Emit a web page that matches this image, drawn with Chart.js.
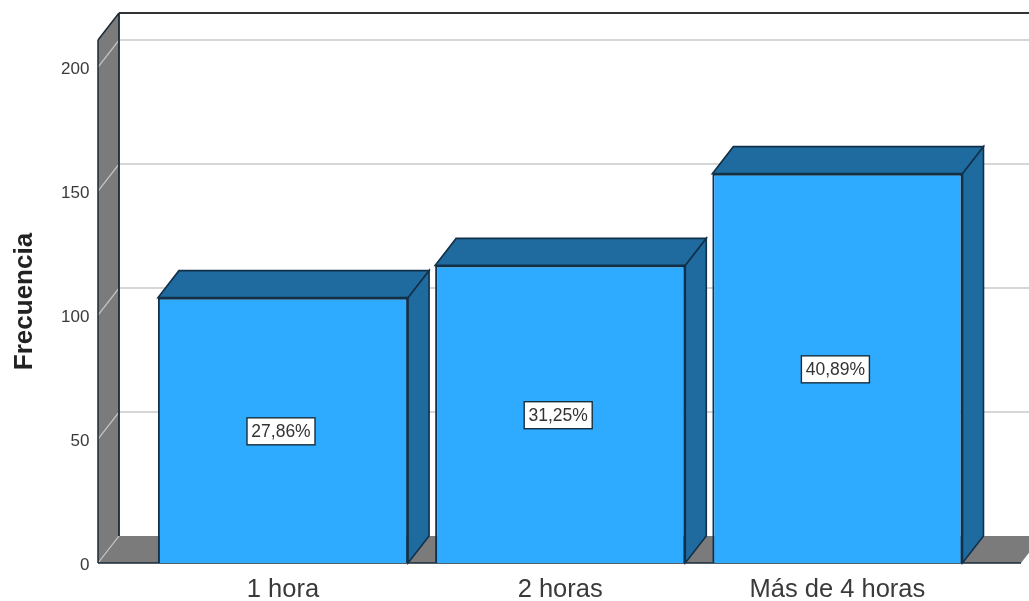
<!DOCTYPE html>
<html>
<head>
<meta charset="utf-8">
<style>
html,body{margin:0;padding:0;background:#fff;overflow:hidden}
canvas{display:block;filter:blur(0.45px)}
</style>
<script src="https://cdn.jsdelivr.net/npm/chart.js@4/dist/chart.umd.min.js"></script>
</head>
<body>
<canvas id="c" width="1029" height="601"></canvas>
<script>
const categories = ["1 hora", "2 horas", "Más de 4 horas"];
const frequencies = [107, 120, 157];
const percentLabels = ["27,86%", "31,25%", "40,89%"];
const yTicks = [0, 50, 100, 150, 200];
const axisTitle = "Frecuencia";

const DX = 21, DY = 27;
const WALL_LEFT = 98, FLOOR_RIGHT = 1021;
const EDGE = "#1a2a36", WALL = "#7b7b7b", GRID = "#c9c9c9";
const FRONT = "#2eaaff", SIDE = "#1f6a9e", BAR_EDGE = "#11304a";

function poly(ctx, pts, fill, stroke, lw) {
  ctx.beginPath();
  pts.forEach((p, i) => i ? ctx.lineTo(p[0], p[1]) : ctx.moveTo(p[0], p[1]));
  ctx.closePath();
  if (fill) { ctx.fillStyle = fill; ctx.fill(); }
  if (stroke) { ctx.strokeStyle = stroke; ctx.lineWidth = lw || 1.5; ctx.stroke(); }
}
function line(ctx, x1, y1, x2, y2, color, lw) {
  ctx.beginPath(); ctx.moveTo(x1, y1); ctx.lineTo(x2, y2);
  ctx.strokeStyle = color; ctx.lineWidth = lw; ctx.stroke();
}

const box3d = {
  id: "box3d",
  beforeDatasetsDraw(chart) {
    const { ctx, scales: { y } } = chart;
    const top = y.top, base = y.bottom;
    ctx.save();
    poly(ctx, [[WALL_LEFT, top], [WALL_LEFT + DX, top - DY], [WALL_LEFT + DX, base - DY], [WALL_LEFT, base]], WALL);
    poly(ctx, [[WALL_LEFT, base], [WALL_LEFT + DX, base - DY], [FLOOR_RIGHT + DX, base - DY], [FLOOR_RIGHT, base]], WALL);
    yTicks.forEach(v => {
      const py = y.getPixelForValue(v);
      line(ctx, WALL_LEFT, py, WALL_LEFT + DX, py - DY, GRID, 1.2);
      if (v > 0) line(ctx, WALL_LEFT + DX, py - DY, chart.width + 5, py - DY, GRID, 1.5);
    });
    line(ctx, WALL_LEFT, top, WALL_LEFT, base, EDGE, 1.5);
    line(ctx, WALL_LEFT + DX, top - DY, WALL_LEFT + DX, base - DY, EDGE, 1.8);
    line(ctx, WALL_LEFT, top, WALL_LEFT + DX, top - DY, EDGE, 1.5);
    line(ctx, WALL_LEFT + DX, top - DY, chart.width + 5, top - DY, "#333", 1.8);
    line(ctx, WALL_LEFT, base, FLOOR_RIGHT, base, EDGE, 1.5);
    ctx.restore();
  },
  afterDatasetsDraw(chart) {
    const { ctx } = chart;
    const bars = chart.getDatasetMeta(0).data;
    ctx.save();
    bars.forEach((b, i) => {
      const l = b.x - b.width / 2, r = b.x + b.width / 2, t = b.y, bt = b.base;
      poly(ctx, [[l, t], [l + DX, t - DY], [r + DX, t - DY], [r, t]], SIDE, BAR_EDGE, 1.6);
      poly(ctx, [[r, t], [r + DX, t - DY], [r + DX, bt - DY], [r, bt]], SIDE, BAR_EDGE, 1.6);
      const cx = b.x - 2, cy = (t + bt) / 2 + 1;
      ctx.font = '17.5px "Liberation Sans"';
      const w = 68, h = 27;
      ctx.fillStyle = "#fff"; ctx.fillRect(cx - w / 2, cy - h / 2, w, h);
      ctx.strokeStyle = "#14303f"; ctx.lineWidth = 1.4; ctx.strokeRect(cx - w / 2, cy - h / 2, w, h);
      ctx.fillStyle = "#333"; ctx.textAlign = "center"; ctx.textBaseline = "middle";
      ctx.fillText(percentLabels[i], cx, cy + 1);
    });
    ctx.restore();
  }
};

new Chart(document.getElementById("c"), {
  type: "bar",
  data: {
    labels: categories,
    datasets: [{
      data: frequencies,
      backgroundColor: FRONT,
      borderColor: BAR_EDGE,
      borderWidth: 2,
      barPercentage: 0.9025,
      categoryPercentage: 1
    }]
  },
  options: {
    responsive: false,
    animation: false,
    layout: { padding: { left: 0, right: 53, top: 40, bottom: 0 } },
    plugins: { legend: { display: false }, tooltip: { enabled: false }, title: { display: false } },
    scales: {
      x: {
        grid: { display: false, drawTicks: false },
        border: { display: false },
        ticks: { color: "#3a3a3a", font: { family: "Liberation Sans", size: 25.5 }, padding: 12, maxRotation: 0, autoSkip: false },
        afterFit(s) { s.height = 38; s.paddingLeft = 0; s.paddingRight = 0; }
      },
      y: {
        min: 0,
        max: 210.9,
        grid: { display: false, drawTicks: false },
        border: { display: false },
        ticks: { stepSize: 50, includeBounds: false, color: "#3a3a3a", font: { family: "Liberation Sans", size: 17 }, padding: 55 },
        title: { display: true, text: axisTitle, color: "#222", font: { family: "Liberation Sans", size: 26, weight: "bold" }, padding: { top: 9, bottom: 0 } },
        afterFit(s) {
          s.width = 144.4; s.paddingTop = 0; s.paddingBottom = 0;
          if (!s._shifted) {
            s._shifted = true;
            const draw = s.drawLabels;
            s.drawLabels = function (area) {
              this.ctx.save(); this.ctx.translate(0, 2.5);
              draw.call(this, area);
              this.ctx.restore();
            };
          }
        }
      }
    }
  },
  plugins: [box3d]
});
</script>
</body>
</html>
